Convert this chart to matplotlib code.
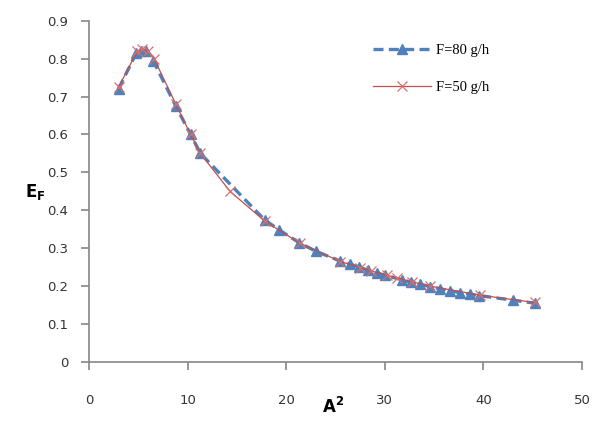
import matplotlib
matplotlib.use("Agg")
import matplotlib.pyplot as plt

# F = 80 g/h (blue dashed, triangles)
A2_80 = [3.0, 4.8, 5.3, 5.8, 6.5, 8.8, 10.3, 11.3, 17.8, 19.3, 21.3, 23.0,
         25.5, 26.5, 27.4, 28.3, 29.2, 30.0, 31.7, 32.7, 33.6, 34.6, 35.6,
         36.6, 37.6, 38.6, 39.6, 43.0, 45.2]
EF_80 = [0.72, 0.815, 0.82, 0.82, 0.795, 0.675, 0.60, 0.55, 0.375, 0.348,
         0.315, 0.292, 0.266, 0.258, 0.250, 0.242, 0.235, 0.229, 0.217,
         0.210, 0.205, 0.199, 0.193, 0.188, 0.183, 0.179, 0.175, 0.163, 0.155]

# F = 50 g/h (red solid, crosses)
A2_50 = [3.0, 4.9, 5.4, 6.0, 6.6, 8.8, 10.3, 11.3, 14.3, 17.8, 21.4, 25.5,
         27.5, 28.6, 30.2, 31.2, 32.8, 34.6, 39.7, 45.2]
EF_50 = [0.725, 0.82, 0.825, 0.82, 0.80, 0.68, 0.60, 0.55, 0.45, 0.372,
         0.313, 0.265, 0.249, 0.240, 0.229, 0.222, 0.211, 0.200, 0.176, 0.157]

LABELS = ["F=80 g/h", "F=50 g/h"]
X_TICKS = [0, 10, 20, 30, 40, 50]
Y_TICKS = [0, 0.1, 0.2, 0.3, 0.4, 0.5, 0.6, 0.7, 0.8, 0.9]

BLUE = "#4f81bd"; RED = "#c0504d"; AXIS = "#868686"; INK = "#333333"

fig = plt.figure(figsize=(5.95, 4.23), dpi=100)
ax = fig.add_axes([89 / 595, 1 - 362 / 423, (582 - 89) / 595, (362 - 20.7) / 423])

ax.plot(A2_80, EF_80, color=BLUE, ls=(0, (3, 1.6)), lw=2.4, marker="^",
        ms=7, mfc=BLUE, mec=BLUE, label=LABELS[0], zorder=3)
ax.plot(A2_50, EF_50, color=RED, ls="-", lw=0.9, marker="x", ms=7,
        mew=0.9, mec="#d9706d", label=LABELS[1], zorder=4)

ax.set_xlim(0, 50); ax.set_ylim(0, 0.9)
ax.set_xticks(X_TICKS); ax.set_yticks(Y_TICKS)
ax.set_xticklabels([str(t) for t in X_TICKS])
ax.set_yticklabels(["0"] + [f"{t:.1f}" for t in Y_TICKS[1:]])
for s in ("top", "right"):
    ax.spines[s].set_visible(False)
for s in ("left", "bottom"):
    ax.spines[s].set_color(AXIS); ax.spines[s].set_linewidth(1.2)
ax.tick_params(axis="both", direction="out", length=6, width=1.2, color=AXIS,
               labelcolor=INK, labelsize=9.5)
ax.tick_params(axis="y", pad=9)
ax.tick_params(axis="x", pad=17)

fig.text(35 / 595, 1 - 192 / 423, r"$\mathbf{E_F}$", fontsize=12,
         ha="center", va="center")
fig.text(333 / 595, 1 - 407 / 423, r"$\mathbf{A^2}$", fontsize=12,
         ha="center", va="center")

ax.legend(loc="upper left", bbox_to_anchor=(373 / 595, 1 - 44 / 423),
          bbox_transform=fig.transFigure, frameon=False, borderpad=0,
          borderaxespad=0, handlelength=4, handletextpad=0.3, labelspacing=1.6,
          prop={"family": "Liberation Serif", "size": 10.5})

fig.savefig("out.png", dpi=100, facecolor="white")
